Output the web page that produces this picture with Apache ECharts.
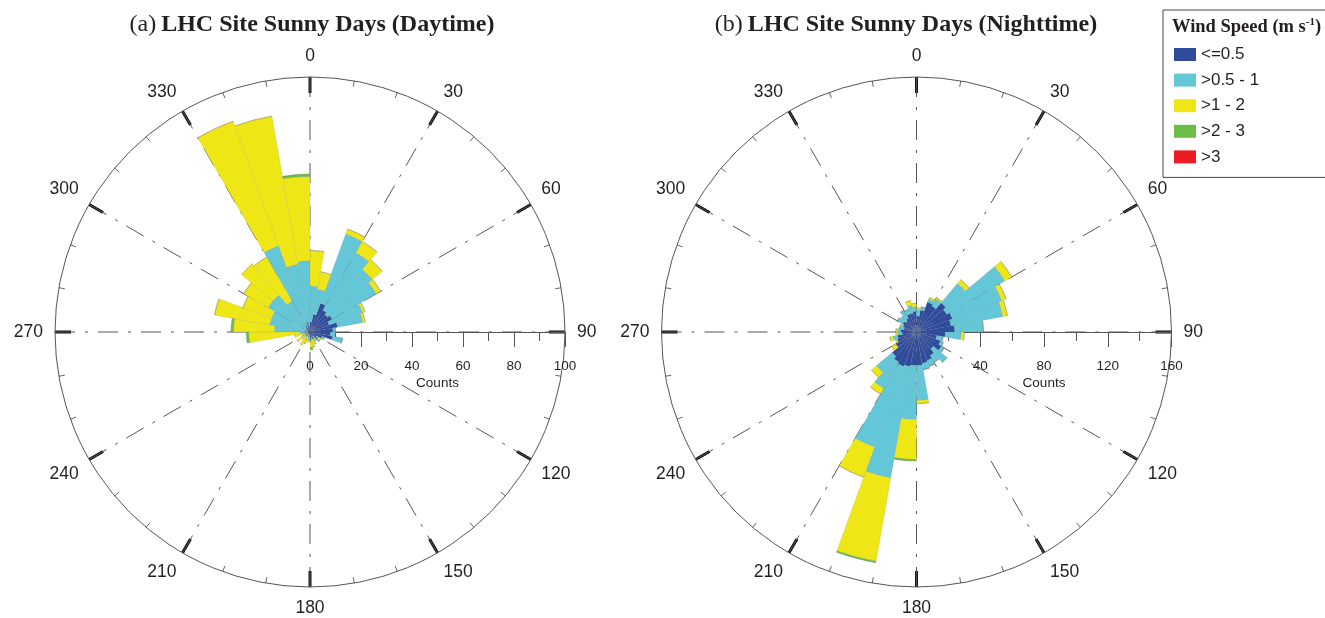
<!DOCTYPE html>
<html><head><meta charset="utf-8">
<script src="https://cdn.jsdelivr.net/npm/echarts@6/dist/echarts.min.js"></script>
<style>html,body{margin:0;padding:0;background:#fff}#c{width:1325px;height:618px}</style>
</head><body><div id="c"></div>
<script>
// 10-degree direction bins, clockwise from north
const directions = [];
for (let d = 0; d < 360; d += 10) directions.push(d + '-' + (d + 10));
const speedClasses = ['<=0.5', '>0.5 - 1', '>1 - 2', '>2 - 3', '>3'];

// (a) Daytime counts per speed class
const dayS1 = [4,7,12,10,9,10,8,11,9,8,9,5,3,4,2,3,2,3,1,2,1,2,1,2,1,2,1,2,1,2,1,2,3,2,4,2];
const dayS2 = [14,10,29,26,23,20,14,10,1,2,4,1,1,1,1,1,1,1,1,1,1,1,1,1,1,1,3,12,15,14,18,17,11,34,23,26];
const dayS3 = [14,7,2,5,5,2,1,1,0,0,0,0,1,0,1,1,3,2,1,1,3,3,2,3,1,3,20,16,22,12,11,16,20,52,59,33];
const dayS4 = [0,0,0,0,0,0,0,0,0,0,0,0,0,0,0,0,0,1,0,0,0,0,0,0,0,0,1,1,0,0,0,0,0,0,0,1];
const dayS5 = [0,0,0,0,0,0,0,0,0,0,0,0,0,0,0,0,0,0,0,0,0,0,0,0,0,0,0,0,0,0,0,0,0,0,0,0];

// (b) Nighttime counts per speed class
const nightS1 = [10,14,20,19,24,22,24,22,24,18,13,16,18,14,17,19,20,21,21,22,23,22,20,15,13,12,9,10,8,9,10,9,10,12,12,13];
const nightS2 = [4,2,2,5,16,42,33,33,18,10,4,2,2,11,5,4,4,22,34,71,54,19,13,0,0,3,3,2,3,1,4,4,6,3,5,3];
const nightS3 = [1,0,1,1,3,5,3,3,0,2,0,0,0,0,0,0,0,2,25,53,20,4,4,3,1,2,1,1,0,1,0,0,0,0,3,2];
const nightS4 = [0,0,0,0,0,0,0,0,0,0,0,0,0,0,0,0,0,0,1,1,0,0,0,0,0,0,0,0,0,0,0,0,0,0,0,0];
const nightS5 = [0,0,0,0,0,0,0,0,0,0,0,0,0,0,0,0,0,0,0,0,0,0,0,0,0,0,0,0,0,0,0,0,0,0,0,0];

const angleTicks = { min: 0, max: 360, interval: 30 };
const dayRadius = { max: 100, interval: 20 };
const nightRadius = { max: 160, interval: 40 };

const COLORS = ['#2f4b9c', '#64c7d8', '#efe616', '#6bbd45', '#ec1c24'];
const TXT = '#231f20';

function framePolarAxes(polarIndex, rad, hideZero) {
  const angle = {
    polarIndex: polarIndex, type: 'value', min: angleTicks.min, max: angleTicks.max,
    interval: angleTicks.interval, startAngle: 0, clockwise: true,
    axisLine: { show: true, lineStyle: { color: '#555', width: 1 } },
    axisTick: { show: true, inside: true, length: 16, lineStyle: { color: '#111', width: 3 } },
    minorTick: { show: true, splitNumber: 3, length: 6, lineStyle: { color: '#666', width: 1 } },
    axisLabel: { show: true, margin: 12, fontSize: 17.5, color: TXT, fontFamily: 'Liberation Sans',
      formatter: v => String((v + 90) % 360) },
    splitLine: { show: true, lineStyle: { color: '#555', width: 1, type: [20, 10, 3, 10] } },
    minorSplitLine: { show: false }
  };
  const radius = {
    polarIndex: polarIndex, type: 'value', min: 0, max: rad.max, interval: rad.interval,
    axisLine: { show: true, lineStyle: { color: '#555', width: 1 } },
    axisTick: { show: true, inside: false, length: -15, lineStyle: { color: '#555', width: 1 } },
    minorTick: { show: true, splitNumber: 2, length: -9, lineStyle: { color: '#555', width: 1 } },
    axisLabel: { show: true, margin: -34, verticalAlign: 'middle', fontSize: 13.5, color: TXT,
      fontFamily: 'Liberation Sans', showMinLabel: true, showMaxLabel: true,
      formatter: v => (hideZero && v === 0) ? '' : String(v) },
    splitLine: { show: false },
    name: 'Counts', nameLocation: 'middle', nameGap: 44,
    nameTextStyle: { fontSize: 13.5, color: TXT, fontFamily: 'Liberation Sans' }
  };
  return { angle, radius };
}
function barPolarAxes(polarIndex, rad) {
  return {
    angle: { polarIndex: polarIndex, type: 'category', data: directions, startAngle: 90, clockwise: true,
      boundaryGap: true, axisLine: { show: false }, axisTick: { show: false },
      axisLabel: { show: false }, splitLine: { show: false } },
    radius: { polarIndex: polarIndex, type: 'value', min: 0, max: rad.max,
      axisLine: { show: false }, axisTick: { show: false }, axisLabel: { show: false },
      splitLine: { show: false } }
  };
}

const bL = barPolarAxes(0, dayRadius), fL = framePolarAxes(1, dayRadius, false);
const bR = barPolarAxes(2, nightRadius), fR = framePolarAxes(3, nightRadius, true);

const series = [];
[[0, [dayS1, dayS2, dayS3, dayS4, dayS5]], [2, [nightS1, nightS2, nightS3, nightS4, nightS5]]].forEach(([pi, arrs]) => {
  arrs.forEach((arr, k) => {
    series.push({
      type: 'bar', name: speedClasses[k], coordinateSystem: 'polar', polarIndex: pi,
      stack: 'stack' + pi, data: arr, barCategoryGap: '0%',
      itemStyle: { color: COLORS[k], borderColor: 'rgba(100,100,100,0.3)', borderWidth: 0.4 },
      emphasis: { disabled: true }, z: 3
    });
  });
});

const serif = 'Liberation Serif';
const option = {
  animation: false,
  backgroundColor: '#fff',
  title: [
    { text: '{n|(a)} {b|LHC Site Sunny Days (Daytime)}', left: 307, top: 8, textAlign: 'center',
      textStyle: { rich: {
        n: { fontFamily: serif, fontSize: 24, fontWeight: 'normal', color: TXT },
        b: { fontFamily: serif, fontSize: 24, fontWeight: 'bold', color: TXT } } } },
    { text: '{n|(b)} {b|LHC Site Sunny Days (Nighttime)}', left: 901, top: 8, textAlign: 'center',
      textStyle: { rich: {
        n: { fontFamily: serif, fontSize: 24, fontWeight: 'normal', color: TXT },
        b: { fontFamily: serif, fontSize: 24, fontWeight: 'bold', color: TXT } } } },
    { text: '{t|Wind Speed (m s}{s|-1}{t|)}', left: 1167, top: 12,
      textStyle: { rich: {
        t: { fontFamily: serif, fontSize: 18.5, fontWeight: 'bold', color: TXT, lineHeight: 20 },
        s: { fontFamily: serif, fontSize: 11, fontWeight: 'bold', color: TXT, verticalAlign: 'top', lineHeight: 20 } } } }
  ],
  legend: {
    data: speedClasses, orient: 'vertical', left: 1163, top: 10,
    padding: [36, 200, 12, 11], itemWidth: 22, itemHeight: 13, itemGap: 8.6, icon: 'rect',
    borderColor: '#444', borderWidth: 1, selectedMode: false,
    itemStyle: { borderWidth: 0 },
    textStyle: { fontSize: 17, fontFamily: 'Liberation Sans', color: TXT }
  },
  polar: [
    { center: [310, 332], radius: 255 },
    { center: [310, 332], radius: 255 },
    { center: [916.5, 332], radius: 255 },
    { center: [916.5, 332], radius: 255 }
  ],
  angleAxis: [bL.angle, fL.angle, bR.angle, fR.angle],
  radiusAxis: [bL.radius, fL.radius, bR.radius, fR.radius],
  series: series
};
const chart = echarts.init(document.getElementById('c'));
chart.setOption(option);
</script>
</body></html>
